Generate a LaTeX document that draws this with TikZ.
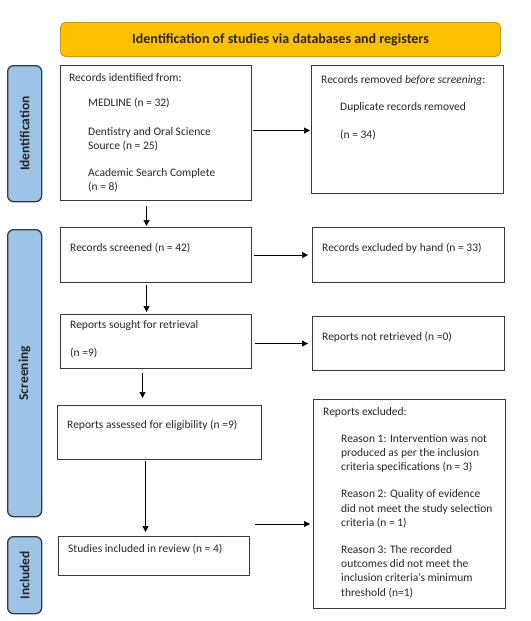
\documentclass[tikz,border=0pt]{standalone}
\usepackage{fontspec}
\setmainfont{Carlito}
\usetikzlibrary{arrows.meta}
\definecolor{barorange}{HTML}{FFC000}
\definecolor{barborde}{HTML}{C99A10}
\definecolor{fasefill}{HTML}{9DC3E6}
\definecolor{faseborde}{HTML}{2E3B4E}
\definecolor{cajaborde}{HTML}{383838}

\begin{document}
\begin{tikzpicture}[x=1pt, y=-1pt,
    caja/.style={draw=cajaborde, line width=1.1pt, anchor=north west, inner sep=0pt},
    fase/.style={draw=faseborde, fill=fasefill, line width=1.3pt, rounded corners=6pt,
        anchor=north west, inner sep=0pt, minimum width=34pt},
    fasetxt/.style={rotate=90, font=\fontsize{13.5}{15}\selectfont\bfseries, text=black!85},
    texto/.style={anchor=north west, yshift=10pt, align=left, inner sep=0pt,
        font=\fontsize{11.5}{14.3}\selectfont, text=black!85,
        execute at begin node=\strut},
    flecha/.style={-{Triangle[length=6pt,width=6pt]}, line width=0.6pt, black}]
    \useasboundingbox (0,0) rectangle (530,621);

    % Cabecera
    \node[anchor=north west, draw=barborde, fill=barorange, line width=0.9pt, rounded corners=5pt,
        minimum width=440pt, minimum height=34pt, inner sep=0pt,
        font=\fontsize{14}{16}\selectfont\bfseries, text=black!85] (head) at (60,22)
        {Identification of studies via databases and registers};

    % Fases a la izquierda
    \node[fase, minimum height=136pt] (fid) at (7,65) {};
    \node[fase, minimum height=287pt] (fscr) at (7,229) {};
    \node[fase, minimum height=77pt] (finc) at (7,536) {};
    \node[fasetxt] (fidtxt) at (fid.center) {Identification};
    \node[fasetxt] (fscrtxt) at (fscr.center) {Screening};
    \node[fasetxt] (finctxt) at (finc.center) {Included};

    % Cajas
    \node[caja, minimum width=191pt, minimum height=135pt] (ident) at (60,65) {};
    \node[caja, minimum width=192pt, minimum height=128pt] (removed) at (311,65) {};
    \node[caja, minimum width=191pt, minimum height=55pt] (screened) at (60,227) {};
    \node[caja, minimum width=192pt, minimum height=55pt] (excluded) at (312,227) {};
    \node[caja, minimum width=191pt, minimum height=54pt] (sought) at (60,314) {};
    \node[caja, minimum width=192pt, minimum height=54pt] (notret) at (312,316) {};
    \node[caja, minimum width=204pt, minimum height=54pt] (assessed) at (57,405) {};
    \node[caja, minimum width=192pt, minimum height=209pt] (repexcl) at (313,399) {};
    \node[caja, minimum width=191pt, minimum height=39pt] (included) at (58,536) {};

    % Textos
    \node[texto] (identtxt) at (69,83) {Records identified from:\\[10.7pt]
        \hspace*{19pt}MEDLINE (n = 32)\\[14.7pt]
        \hspace*{19pt}Dentistry and Oral Science\\
        \hspace*{19pt}Source (n = 25)\\[12.7pt]
        \hspace*{19pt}Academic Search Complete\\
        \hspace*{19pt}(n = 8)};
    \node[texto] (removedtxt) at (321,85) {Records removed \textit{before screening}:\\[12.7pt]
        \hspace*{19pt}Duplicate records removed\\[13.7pt]
        \hspace*{19pt}(n = 34)};
    \node[texto] (screenedtxt) at (70,251) {Records screened (n = 42)};
    \node[texto] (excludedtxt) at (322,251) {Records excluded by hand (n = 33)};
    \node[texto] (soughttxt) at (70,330) {Reports sought for retrieval\\[13.7pt] (n =9)};
    \node[texto] (notrettxt) at (322,340) {Reports not retrieved (n =0)};
    \node[texto] (assessedtxt) at (67,428) {Reports assessed for eligibility (n =9)};
    \node[texto] (repexcltxt) at (323,417) {Reports excluded:\\[12.7pt]
        \hspace*{18pt}Reason 1: Intervention was not\\
        \hspace*{18pt}produced as per the inclusion\\
        \hspace*{18pt}criteria specifications (n = 3)\\[12.7pt]
        \hspace*{18pt}Reason 2: Quality of evidence\\
        \hspace*{18pt}did not meet the study selection\\
        \hspace*{18pt}criteria (n = 1)\\[12.7pt]
        \hspace*{18pt}Reason 3: The recorded\\
        \hspace*{18pt}outcomes did not meet the\\
        \hspace*{18pt}inclusion criteria's minimum\\
        \hspace*{18pt}threshold (n=1)};
    \node[texto] (includedtxt) at (68,552) {Studies included in review (n = 4)};

    % Flechas
    \draw[flecha, shorten <=1pt, shorten >=1pt] ([yshift=2.5pt]ident.east) -- ([yshift=2.5pt]ident.east -| removed.west);
    \draw[flecha, shorten <=2pt, shorten >=4pt] (screened.east) -- (screened.east -| excluded.west);
    \draw[flecha, shorten <=3pt, shorten >=4pt] ([yshift=-2pt]sought.east) -- ([yshift=-2pt]sought.east -| notret.west);
    \coordinate (libre) at (255,524);
    \draw[flecha, shorten >=3pt] (libre) -- (libre -| repexcl.west);

    \draw[flecha, shorten <=5pt, shorten >=1pt] ([xshift=-9.5pt]ident.south) -- ([xshift=-9.5pt]ident.south |- screened.north);
    \draw[flecha, shorten <=2pt, shorten >=2pt] ([xshift=-9.5pt]screened.south) -- ([xshift=-9.5pt]screened.south |- sought.north);
    \draw[flecha, shorten <=4pt, shorten >=7pt] ([xshift=-13.5pt]sought.south) -- ([xshift=-13.5pt]sought.south |- assessed.north);
    \draw[flecha, shorten <=1pt, shorten >=4pt] ([xshift=-14pt]assessed.south) -- ([xshift=-14pt]assessed.south |- included.north);
\end{tikzpicture}
\end{document}
